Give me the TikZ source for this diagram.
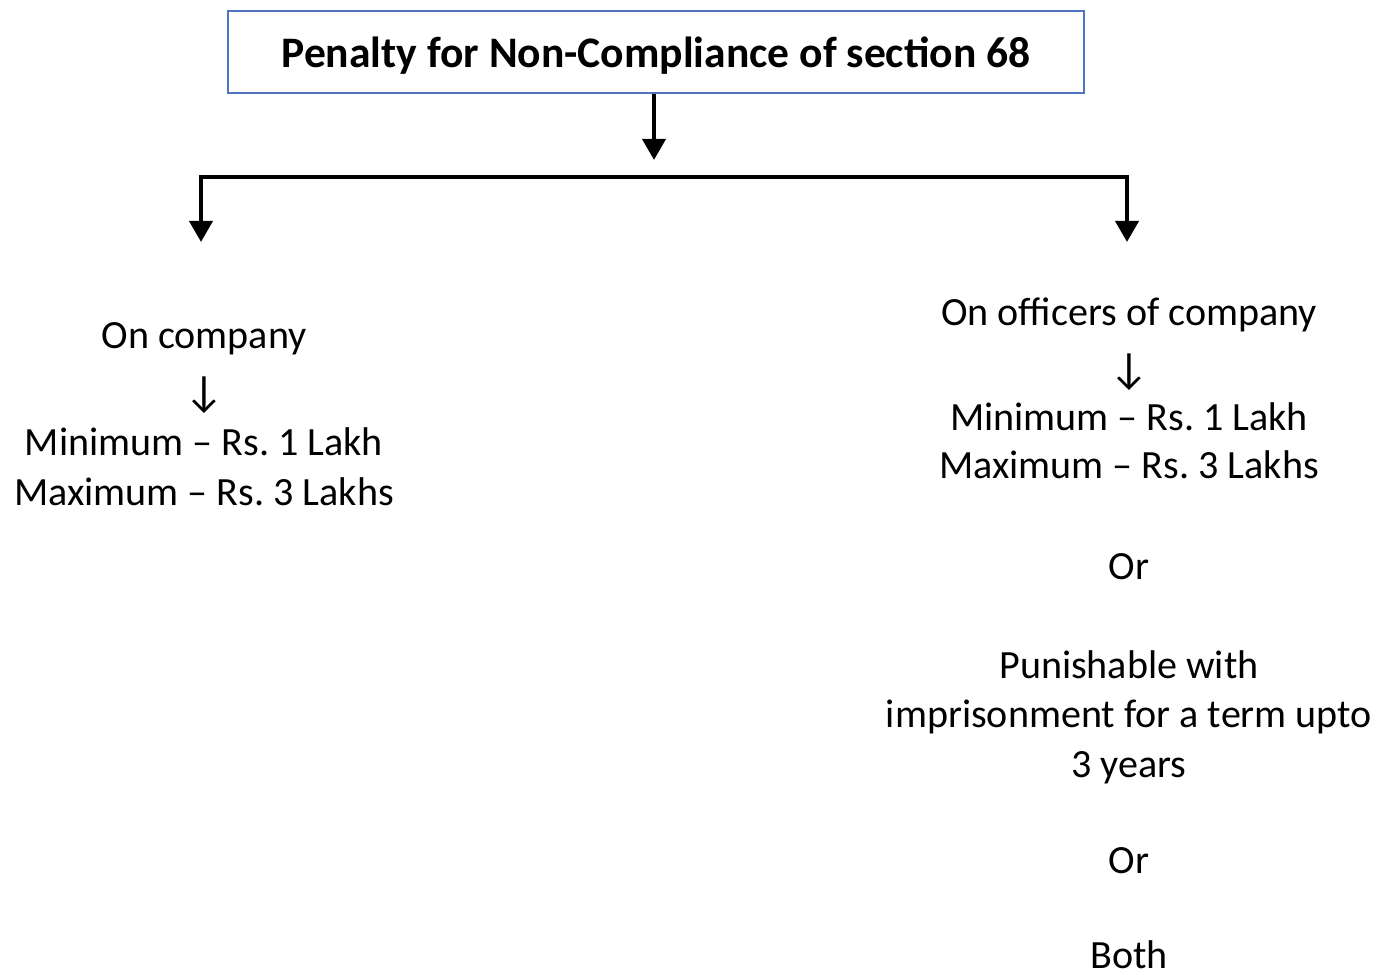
\documentclass[tikz,border=0pt]{standalone}
\usepackage{fontspec}
\setmainfont{Carlito}
\newfontfamily\arrowfont{DejaVu Sans}
\usepackage{tikz}
\usetikzlibrary{arrows.meta}
\usetikzlibrary{positioning}
\frenchspacing
\tikzset{line/.style = {line width = 2.6pt}}
\tikzset{tip/.style = {line, -{Triangle[length = 12pt, width = 13pt]}}}
\tikzset{both tips/.style = {line, {Triangle[length = 12pt, width = 13pt]}-{Triangle[length = 12pt, width = 13pt]}}}
\tikzset{txt/.style = {anchor = base, inner sep = 0, font = \fontsize{22.8}{28}\selectfont}}
\tikzset{down/.style = {anchor = center, inner sep = 0, font = \fontsize{25}{30}\selectfont}}
\tikzset{headbox/.style = {draw = mblue, line width = 1.2pt, inner sep = 0,
                           minimum width = 17.12cm, minimum height = 1.64cm, text depth = 0pt,
                           font = \bfseries\fontsize{24.8}{30}\selectfont}}
\definecolor{mblue}{rgb}{0.31, 0.45, 0.75}

\begin{document}
\begin{tikzpicture}[x = 0.02cm, y = -0.02cm]
    \useasboundingbox (0, 0) rectangle (1389, 974);
    \node [headbox] (title) at (656, 52) {Penalty for Non-Compliance of section 68};
    \coordinate (mid) at (654, 160);
    \coordinate (ltop) at (201, 177);
    \coordinate (rtop) at (1127, 177);
    \coordinate (lend) at (201, 242);
    \coordinate (rend) at (1127, 242);
    \draw [tip] (title.south -| mid) -- (mid);
    \draw [both tips] (lend) -- (ltop) -- (rtop) -- (rend);
    \node [txt] (oncomp) at (204, 348) {On company};
    \node [down] (ldown) at (204, 395) {↓};
    \node [txt] (lmin) at (204, 455) {Minimum – Rs. 1 Lakh};
    \node [txt] (lmax) at (204, 505) {Maximum – Rs. 3 Lakhs};
    \node [txt] (onoff) at (1129, 325) {On officers of company};
    \node [down] (rdown) at (1129, 372) {↓};
    \node [txt] (rmin) at (1129, 430) {Minimum – Rs. 1 Lakh};
    \node [txt] (rmax) at (1129, 478) {Maximum – Rs. 3 Lakhs};
    \node [txt] (orone) at (1129, 579) {Or};
    \node [txt] (punone) at (1129, 678) {Punishable with};
    \node [txt] (puntwo) at (1129, 727) {imprisonment for a term upto};
    \node [txt] (punthree) at (1129, 777) {3 years};
    \node [txt] (ortwo) at (1129, 873) {Or};
    \node [txt] (both) at (1129, 968) {Both};
\end{tikzpicture}
\end{document}
